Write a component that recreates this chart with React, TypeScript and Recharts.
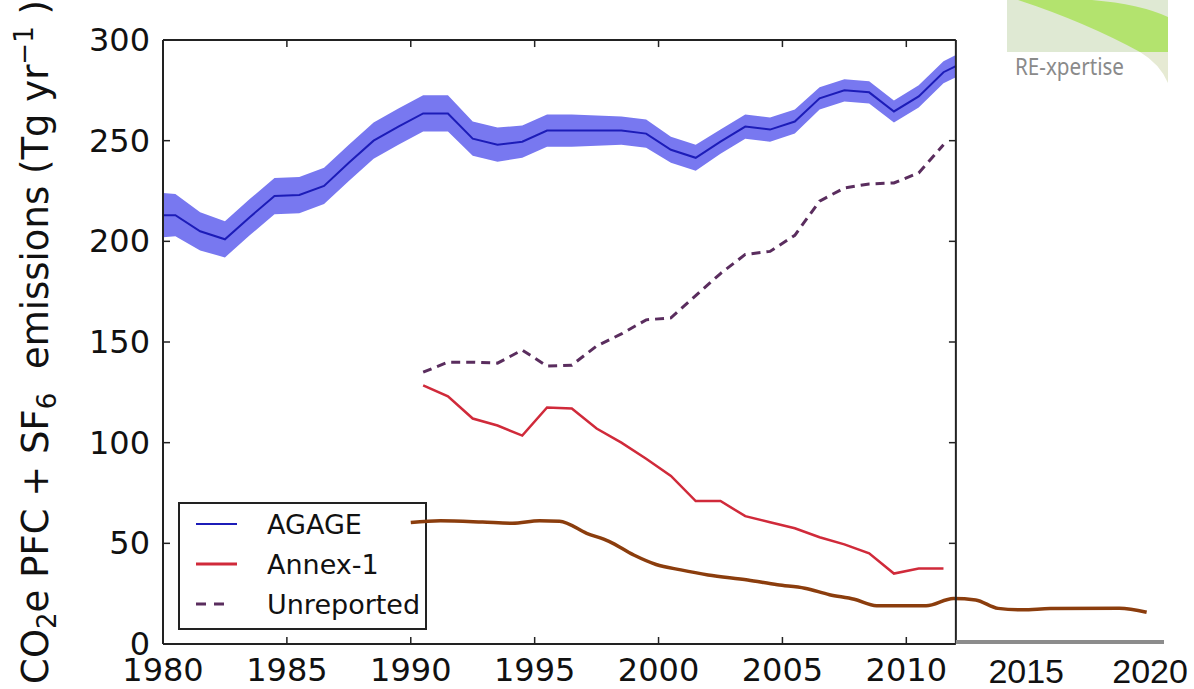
import { ComposedChart, Area, Line, XAxis, YAxis, ReferenceLine, Legend } from 'recharts'

// AGAGE top-down estimate (mid-year points, plus the values at the frame edges)
const AGAGE_YEARS = [
  1980, 1980.5, 1981.5, 1982.5, 1983.5, 1984.5, 1985.5, 1986.5, 1987.5, 1988.5, 1989.5,
  1990.5, 1991.5, 1992.5, 1993.5, 1994.5, 1995.5, 1996.5, 1997.5, 1998.5, 1999.5,
  2000.5, 2001.5, 2002.5, 2003.5, 2004.5, 2005.5, 2006.5, 2007.5, 2008.5, 2009.5,
  2010.5, 2011.5, 2012,
]
const AGAGE_MEAN = [
  213, 213, 205, 201, 212, 222.5, 223, 227.5, 239, 250, 257,
  263.5, 263.5, 251, 248, 249.5, 255, 255, 255, 255, 253.5,
  245.5, 241.5, 249.5, 257, 255.5, 259.5, 271, 275, 274, 264.5,
  272, 284, 287,
]
const AGAGE_UNC = [
  11, 10.5, 9.5, 9, 9, 9, 9, 9, 9, 9, 9,
  9, 9, 8.5, 8.5, 8, 8, 8, 7.5, 7, 7,
  6.5, 6.5, 6, 6, 6, 6, 5.5, 5.5, 5.5, 5.5,
  5.5, 5.5, 5.5,
]

// inventory based series
const INVENTORY_YEARS = [
  1990.5, 1991.5, 1992.5, 1993.5, 1994.5, 1995.5, 1996.5, 1997.5, 1998.5, 1999.5,
  2000.5, 2001.5, 2002.5, 2003.5, 2004.5, 2005.5, 2006.5, 2007.5, 2008.5, 2009.5,
  2010.5, 2011.5,
]
const ANNEX1 = [
  128.5, 123, 112, 108.5, 103.5, 117.5, 117, 107, 100, 92,
  83.5, 71, 71, 63.5, 60.5, 57.5, 53, 49.5, 45, 35,
  37.5, 37.5,
]
const UNREPORTED = [
  135, 140, 140, 139.5, 146, 138, 138.5, 148, 154, 161,
  162, 173, 184, 193.5, 195, 203, 220, 226.5, 228.5, 229,
  234, 248,
]

// hand-drawn brown overlay, extended out to 2020
const OVERLAY_YEARS = [
  1990, 1991.2, 1992.9, 1994.1, 1995.2, 1996, 1997.1, 1998, 1999, 1999.9,
  2000.9, 2002, 2003.6, 2004.8, 2005.9, 2006.9, 2007.9, 2008.8, 2010.8, 2011.9,
  2012.8, 2013.7, 2014.7, 2015.8, 2018.6, 2019.7,
]
const OVERLAY_VALUES = [
  60.3, 61.2, 60.6, 60, 61.2, 61, 55, 51, 44.2, 39.5,
  36.8, 34.3, 31.8, 29.4, 27.7, 24.5, 22.2, 19, 19, 22.6,
  21.9, 17.7, 17, 17.6, 17.8, 15.8,
]

const X_TICKS = [1980, 1985, 1990, 1995, 2000, 2005, 2010, 2015, 2020]
const Y_TICKS = [0, 50, 100, 150, 200, 250, 300]
const FRAME_END = 2012

const COLORS = {
  band: '#7878f0',
  agage: '#1c1cb8',
  annex: '#d02a3a',
  unreported: '#5a2d5e',
  overlay: '#8b3d0d',
  frame: '#222',
  extension: '#8c8c8c',
}

const LEGEND_ITEMS = [
  { label: 'AGAGE', color: COLORS.agage, width: 2, dash: undefined },
  { label: 'Annex-1', color: COLORS.annex, width: 3, dash: undefined },
  { label: 'Unreported', color: COLORS.unreported, width: 3, dash: '10 8' },
]

const agageData = AGAGE_YEARS.map((year, i) => ({
  year,
  mean: AGAGE_MEAN[i],
  range: [AGAGE_MEAN[i] - AGAGE_UNC[i], AGAGE_MEAN[i] + AGAGE_UNC[i]],
}))
const annexData = INVENTORY_YEARS.map((year, i) => ({ year, value: ANNEX1[i] }))
const unreportedData = INVENTORY_YEARS.map((year, i) => ({ year, value: UNREPORTED[i] }))
const overlayData = OVERLAY_YEARS.map((year, i) => ({ year, value: OVERLAY_VALUES[i] }))

const MPL_FONT = '"DejaVu Sans", sans-serif'

function XTick({ x, y, payload }: any) {
  const v = payload.value as number
  const pasted = v > FRAME_END
  return (
    <g>
      {v > 1980 && !pasted && <line x1={x} x2={x} y1={y} y2={y - 7} stroke={COLORS.frame} strokeWidth={1.5} />}
      <text
        x={pasted ? x - 4 : x}
        y={pasted ? y + 39 : y + 37}
        textAnchor="middle"
        fontFamily={pasted ? '"Liberation Sans", Arial, sans-serif' : MPL_FONT}
        fontSize={pasted ? 34 : 32}
        fill="#111"
      >
        {v}
      </text>
    </g>
  )
}

function YTick({ x, y, payload }: any) {
  const v = payload.value as number
  return (
    <g>
      {v > 0 && v < 300 && <line x1={x} x2={x + 7} y1={y} y2={y} stroke={COLORS.frame} strokeWidth={1.5} />}
      <text x={x - 13} y={y + 11} textAnchor="end" fontFamily={MPL_FONT} fontSize={32} fill="#111">
        {v}
      </text>
    </g>
  )
}

function YLabel({ viewBox }: any) {
  const cx = viewBox.x + 48
  const cy = viewBox.y + viewBox.height / 2
  return (
    <text
      transform={`translate(${cx},${cy}) rotate(-90)`}
      textAnchor="middle"
      fontFamily={MPL_FONT}
      fontSize={37}
      fill="#111"
    >
      <tspan>CO</tspan>
      <tspan fontSize={26} dy={8}>2</tspan>
      <tspan dy={-8}>e PFC + SF</tspan>
      <tspan fontSize={26} dy={8}>6</tspan>
      <tspan dy={-8}>{'\u00a0 emissions (Tg yr'}</tspan>
      <tspan fontSize={26} dy={-15}>{'\u22121'}</tspan>
      <tspan dy={15}>{'\u00a0)'}</tspan>
    </text>
  )
}

function LegendBox() {
  return (
    <svg width={249} height={128}>
      <rect x={1} y={1} width={247} height={126} fill="#fff" stroke={COLORS.frame} strokeWidth={2} />
      {LEGEND_ITEMS.map((item, i) => {
        const cy = 22 + i * 40
        return (
          <g key={item.label}>
            <line
              x1={18}
              x2={item.dash ? 52 : 59}
              y1={cy}
              y2={cy}
              stroke={item.color}
              strokeWidth={item.width}
              strokeDasharray={item.dash}
            />
            <text x={89} y={cy + 10} fontFamily={MPL_FONT} fontSize={27} fill="#111">
              {item.label}
            </text>
          </g>
        )
      })}
    </svg>
  )
}

function Logo() {
  return (
    <svg
      width={1194}
      height={689}
      style={{ position: 'absolute', left: 0, top: 0, pointerEvents: 'none' }}
    >
      <rect x={1007} y={0} width={161} height={52} fill="#dfe9d3" />
      <path d="M1018,0 L1092,0 Q1140,4 1168,17 L1168,52 L1140,52 Q1085,22 1018,0 Z" fill="#b3e36e" />
      <path d="M1140,52 L1168,52 L1168,83 Q1160,64 1140,52 Z" fill="#e6ead3" />
      <text
        x={1015}
        y={75}
        fontFamily='"Noto Sans", sans-serif'
        fontSize={24}
        fill="#8a8a8a"
        textLength={109}
        lengthAdjust="spacingAndGlyphs"
      >
        RE-xpertise
      </text>
    </svg>
  )
}

export default function App() {
  return (
    <div style={{ position: 'absolute', left: 0, top: 0, zIndex: 0, width: 1194, height: 689, background: '#fff', overflow: 'hidden' }}>
      <ComposedChart width={1194} height={689} margin={{ top: 40, right: 30, bottom: 0, left: 0 }}>
        <XAxis
          dataKey="year"
          type="number"
          domain={[1980, 2020.4]}
          ticks={X_TICKS}
          allowDataOverflow
          axisLine={false}
          tickLine={false}
          tickSize={0}
          tickMargin={0}
          height={45}
          tick={<XTick />}
        />
        <YAxis
          type="number"
          domain={[0, 300]}
          ticks={Y_TICKS}
          width={163}
          axisLine={{ stroke: COLORS.frame, strokeWidth: 2 }}
          tickLine={false}
          tickSize={0}
          tickMargin={0}
          tick={<YTick />}
          label={<YLabel />}
        />
        <Area
          data={agageData}
          dataKey="range"
          type="linear"
          stroke="none"
          fill={COLORS.band}
          fillOpacity={1}
          isAnimationActive={false}
        />
        <Line
          data={agageData}
          dataKey="mean"
          type="linear"
          stroke={COLORS.agage}
          strokeWidth={2}
          dot={false}
          isAnimationActive={false}
        />
        <Line
          data={unreportedData}
          dataKey="value"
          type="linear"
          stroke={COLORS.unreported}
          strokeWidth={3}
          strokeDasharray="9 6"
          dot={false}
          isAnimationActive={false}
        />
        <Line
          data={annexData}
          dataKey="value"
          type="linear"
          stroke={COLORS.annex}
          strokeWidth={2.5}
          dot={false}
          isAnimationActive={false}
        />
        <Line
          data={overlayData}
          dataKey="value"
          type="monotone"
          stroke={COLORS.overlay}
          strokeWidth={3.5}
          dot={false}
          isAnimationActive={false}
        />
        {/* matplotlib style box around the original panel */}
        <ReferenceLine segment={[{ x: 1980, y: 300 }, { x: FRAME_END, y: 300 }]} stroke={COLORS.frame} strokeWidth={2} ifOverflow="visible" />
        <ReferenceLine segment={[{ x: FRAME_END, y: 0 }, { x: FRAME_END, y: 300 }]} stroke={COLORS.frame} strokeWidth={2} ifOverflow="visible" />
        <ReferenceLine segment={[{ x: 1980, y: 0 }, { x: FRAME_END, y: 0 }]} stroke={COLORS.frame} strokeWidth={2} ifOverflow="visible" />
        <ReferenceLine segment={[{ x: FRAME_END, y: 1 }, { x: 2020.4, y: 1 }]} stroke={COLORS.extension} strokeWidth={4} ifOverflow="visible" />
        {X_TICKS.filter((t) => t > 1980 && t < FRAME_END).map((t) => (
          <ReferenceLine key={`top-${t}`} segment={[{ x: t, y: 300 }, { x: t, y: 296.5 }]} stroke={COLORS.frame} strokeWidth={1.5} ifOverflow="visible" />
        ))}
        {Y_TICKS.filter((v) => v > 0 && v < 300).map((v) => (
          <ReferenceLine key={`right-${v}`} segment={[{ x: FRAME_END, y: v }, { x: FRAME_END - 0.28, y: v }]} stroke={COLORS.frame} strokeWidth={1.5} ifOverflow="visible" />
        ))}
        {/* legend sits under the plot layer so the pasted brown line crosses it */}
        <Legend
          layout="vertical"
          align="center"
          verticalAlign="middle"
          wrapperStyle={{ left: 178, top: 502, width: 249, height: 128, zIndex: -1 }}
          content={() => <LegendBox />}
        />
      </ComposedChart>
      <Logo />
    </div>
  )
}
